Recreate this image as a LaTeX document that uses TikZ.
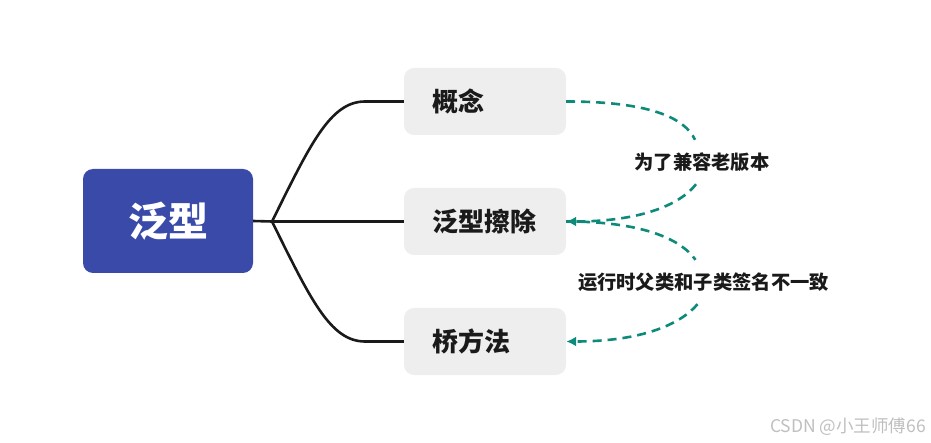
\documentclass[tikz,border=0pt]{standalone}
\usepackage{fontspec}
\setmainfont{Noto Sans CJK SC}
\usetikzlibrary{arrows.meta}
\definecolor{rootblue}{HTML}{3A4AA9}
\definecolor{childgray}{HTML}{EEEEEE}
\definecolor{teal2}{HTML}{0E8A7B}
\definecolor{ink}{HTML}{1A1A1A}
\tikzset{
  rootbox/.style={fill=rootblue, rounded corners=10pt, minimum width=170pt, minimum height=104pt,
    inner sep=0pt, text=white, font=\fontsize{40}{44}\selectfont\bfseries},
  childbox/.style={fill=childgray, rounded corners=10pt, minimum height=67pt, inner ysep=0pt,
    inner xsep=28pt, text width=106pt, align=left, text=ink, font=\fontsize{26}{30}\selectfont\bfseries},
  branch/.style={draw=ink, line width=2.6pt},
  relink/.style={draw=teal2, line width=2.6pt, dash pattern=on 9pt off 6pt},
  relarrow/.style={relink, -{Latex[length=10pt,width=10pt]}},
  rellabel/.style={inner sep=0pt, minimum height=44pt, text=ink, font=\fontsize{19.3}{22}\selectfont\bfseries},
}
\begin{document}
\begin{tikzpicture}[x=1pt,y=-1pt]
\useasboundingbox (0,0) rectangle (931,443);
\node[rootbox] (root) at (168,221) {泛型};
\node[childbox] (c1) at (485,101.5) {概念};
\node[childbox] (c2) at (485,221.5) {泛型擦除};
\node[childbox] (c3) at (485,341.5) {桥方法};
\coordinate (b) at (272,221.5);
\draw[branch] (root.east) -- (b) -- (c2.west);
\draw[branch] (b) .. controls (310,145) and (330,101.5) .. (365,101.5) -- (c1.west);
\draw[branch] (b) .. controls (310,298) and (330,341.5) .. (365,341.5) -- (c3.west);
\node[rellabel] (l1) at (702,162) {为了兼容老版本};
\node[rellabel] (l2) at (703.5,282) {运行时父类和子类签名不一致};
\draw[relink] (c1.east) .. controls (650,101.5) and (685,118) .. ([xshift=-7pt]l1.north);
\draw[relarrow] ([xshift=-6pt]l1.south) .. controls (680,205) and (640,221.5) .. (c2.east);
\draw[relink] (c2.east) .. controls (640,221.5) and (680,238) .. ([xshift=-8pt]l2.north);
\draw[relarrow] ([xshift=-6pt]l2.south) .. controls (680,325) and (640,341.5) .. (c3.east);
\node[anchor=east, inner sep=0pt, text=black!25, font=\fontsize{17.5}{20}\selectfont] (wm) at (926,427) {CSDN @小王师傅66};
\end{tikzpicture}
\end{document}
